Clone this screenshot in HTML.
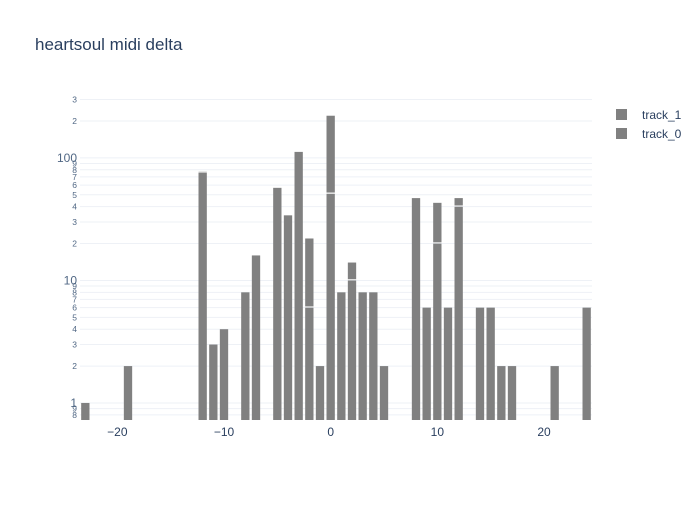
<!DOCTYPE html>
<html><head><meta charset="utf-8"><style>
body{margin:0;background:#fff;}
svg{font-family:"Liberation Sans","Open Sans",sans-serif;}
</style></head><body>
<svg id="chart" width="700" height="500" viewBox="0 0 700 500">
<rect width="700" height="500" fill="#fff"/>
<text x="35" y="50" font-size="17" fill="#2a3f5f">heartsoul midi delta</text>
<g id="grid"></g><g id="bars"></g><g id="yt"></g><g id="xt"></g>
<g>
<g><rect x="616" y="109" width="11" height="11" fill="#808080"/><text x="642" y="119" font-size="12" fill="#2a3f5f">track_1</text></g>
<g><rect x="616" y="128" width="11" height="11" fill="#808080"/><text x="642" y="138" font-size="12" fill="#2a3f5f">track_0</text></g>
</g>
</svg>
<script>
const categories=[-23,-19,-12,-11,-10,-8,-7,-5,-4,-3,-2,-1,0,1,2,3,4,5,8,9,10,11,12,14,15,16,17,21,24];
const track0=[1,2,76,3,4,8,16,57,34,112,6,2,51,8,10,8,8,2,47,6,20,6,40,6,6,2,2,2,6];
const track1=[0,0,2,0,0,0,0,0,0,0,16,0,170,0,4,0,0,0,0,0,23,0,7,0,0,0,0,0,0];
const xTicks=[-20,-10,0,10,20];
const NS="http://www.w3.org/2000/svg";
const L=80,R=592,T=100,B=420;
const xmin=-23.5,xmax=24.5;
const ylo=Math.log10(0.726),yhi=Math.log10(297);
const X=v=>L+(v-xmin)/(xmax-xmin)*(R-L);
const Y=v=>B-(Math.log10(v)-ylo)/(yhi-ylo)*(B-T);
function mk(tag,attrs,parent){const e=document.createElementNS(NS,tag);for(const k in attrs)e.setAttribute(k,attrs[k]);parent.appendChild(e);return e;}
const grid=document.getElementById('grid'),yt=document.getElementById('yt'),xt=document.getElementById('xt'),bars=document.getElementById('bars');
const yvals=[];
for(const d of [0.1,1,10,100])for(let m=1;m<=9;m++){const v=m*d;if(v>=0.8&&v<=300)yvals.push(v);}
yvals.forEach(v=>{
 const y=Y(v);
 const ln=mk('line',{x1:L,x2:R,y1:y,y2:y,stroke:'#eef1f6','stroke-width':1},grid);
 
 
 const major=[1,10,100].includes(Math.round(v*10)/10);
 const lab=major?String(Math.round(v)):String(Math.round(v/Math.pow(10,Math.floor(Math.log10(v)+1e-9))));
 const t=mk('text',{x:major?77:77,y:y+(major?4:3),'text-anchor':'end','font-size':major?12:8.5,fill:'#506784'},yt);
 t.textContent=lab;
 
 
});
xTicks.forEach(v=>{
 const t=mk('text',{x:X(v),y:436,'text-anchor':'middle','font-size':12,fill:'#2a3f5f'},xt);
 t.textContent=v<0?'\u2212'+Math.abs(v):String(v);
 
 
});
const bw=0.78*(R-L)/(xmax-xmin);
categories.forEach((c,i)=>{
 const x=X(c)-bw/2;
 const a=track0[i],b=track1[i];
 const y0=Y(a);
 const r0=mk('rect',{x:x,y:y0,width:bw,height:B-y0,fill:'#808080'},bars);
 
 
 if(b>0){
  const y1=Y(a+b);
  const r1=mk('rect',{x:x,y:y1,width:bw,height:Math.max(0,y0-y1-1.2),fill:'#808080'},bars);
  
  
 }
});
</script>
</body></html>
